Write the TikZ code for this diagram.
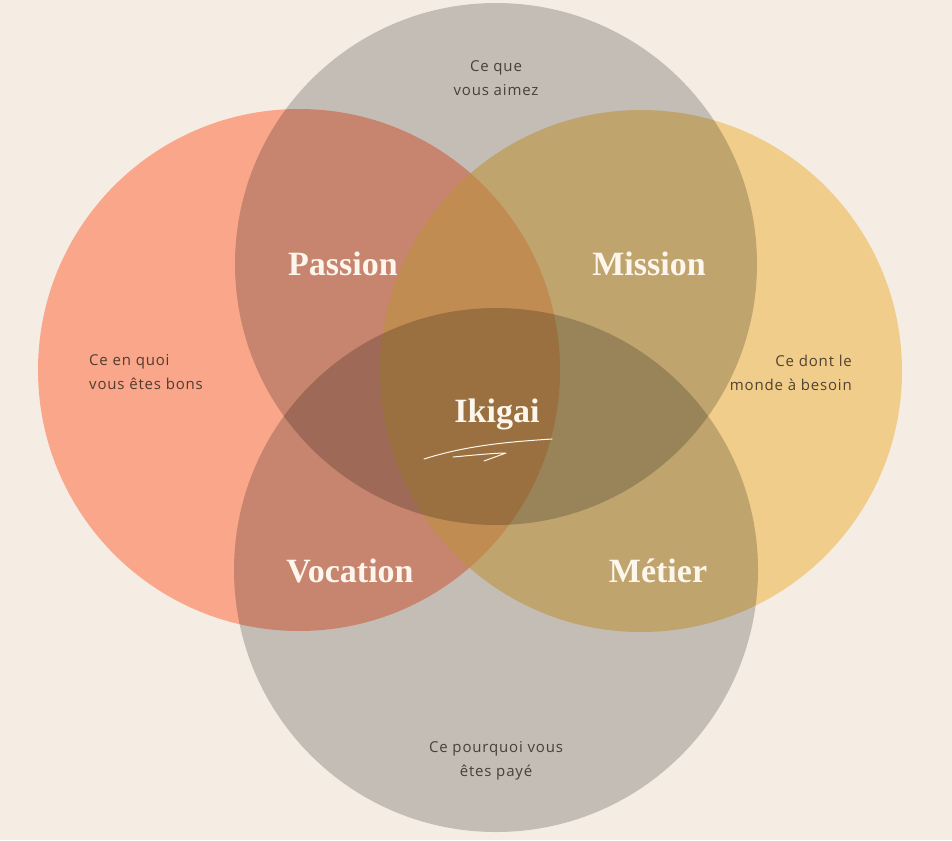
\documentclass[tikz,border=0pt]{standalone}
\usepackage{fontspec}
\setmainfont{Liberation Serif}
\newfontfamily\labelfont[LetterSpace=5.5]{Open Sans}
\definecolor{bg}{HTML}{F5EDE3}
\definecolor{salmonc}{HTML}{F9A68A}
\definecolor{yellowc}{HTML}{EEB84F}
\definecolor{smalltext}{HTML}{2E241D}
\definecolor{headtext}{HTML}{FDF6EC}
\begin{document}
\begin{tikzpicture}[x=1pt,y=-1pt,
  small/.style={font=\labelfont\fontsize{15}{24}\selectfont, text=smalltext, text opacity=0.82, inner sep=0pt, anchor=base},
  big/.style={font=\bfseries\fontsize{34}{40}\selectfont, text=headtext, inner sep=0pt, anchor=base},
  graydisc/.style={fill=black, fill opacity=0.2},
  pen/.style={draw=headtext, line width=1pt, line cap=round, line join=round}]
\useasboundingbox (0,0) rectangle (952,840);
\fill[bg] (0,0) rectangle (952,840);
% circles
\coordinate (cS) at (299,370);
\coordinate (cY) at (641,371);
\coordinate (cT) at (496,264);
\coordinate (cB) at (496,570);
\fill[salmonc] (cS) circle[radius=261];
\fill[yellowc, fill opacity=0.6] (cY) circle[radius=261];
\fill[graydisc] (cT) circle[radius=261];
\fill[graydisc] (cB) circle[radius=262];
% small texts
\node[small] (t1) at (496,72) {Ce que};
\node[small] (t2) at (496,96) {vous aimez};
\node[small, anchor=base west] (l1) at (89,365) {Ce en quoi};
\node[small, anchor=base west] (l2) at (89,389) {vous êtes bons};
\node[small, anchor=base east] (r1) at (852,366) {Ce dont le};
\node[small, anchor=base east] (r2) at (852,390) {monde à besoin};
\node[small] (b1) at (496,752) {Ce pourquoi vous};
\node[small] (b2) at (496,776) {êtes payé};
% headings
\node[big] (passion) at (343,275) {Passion};
\node[big] (mission) at (649,275) {Mission};
\node[big] (vocation) at (350,582) {Vocation};
\node[big] (metier) at (658,582) {Métier};
\node[big] (ikigai) at (497,422) {Ikigai};
% squiggle
\coordinate (s1) at (424,459);
\coordinate (s2) at (552,439);
\coordinate (s3) at (453,457);
\coordinate (s4) at (506,453);
\coordinate (s5) at (484,461);
\draw[pen] (s1) .. controls (465,446) and (505,442) .. (s2);
\draw[pen] (s3) .. controls (475,455) and (495,453) .. (s4) -- (s5);
\end{tikzpicture}
\end{document}
